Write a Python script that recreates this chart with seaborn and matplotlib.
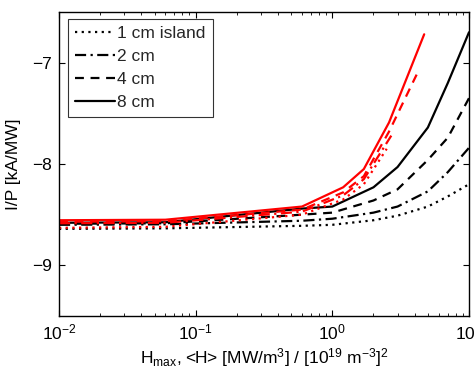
import matplotlib
matplotlib.use("Agg")
import matplotlib.pyplot as plt
import seaborn as sns
import numpy as np
import pandas as pd

sns.set_theme(style="ticks")
plt.rcParams['font.family'] = ['Liberation Sans', 'DejaVu Sans']
plt.rcParams['mathtext.fontset'] = 'custom'
plt.rcParams['mathtext.rm'] = 'Liberation Sans'
plt.rcParams['mathtext.it'] = 'Liberation Sans'

# Data (black: H_max, red: <H>)
labels = ["1 cm island", "2 cm", "4 cm", "8 cm"]
x_black = [0.01, 0.06, 0.6, 1.0, 2.0, 3.0, 5.0, 7.0, 10.0]
y_black_1cm = [-8.64, -8.635, -8.61, -8.60, -8.555, -8.51, -8.42, -8.32, -8.20]
y_black_2cm = [-8.60, -8.595, -8.56, -8.54, -8.48, -8.42, -8.27, -8.08, -7.84]
y_black_4cm = [-8.59, -8.585, -8.50, -8.48, -8.36, -8.25, -7.96, -7.74, -7.35]
y_black_8cm = [-8.58, -8.575, -8.44, -8.42, -8.23, -8.03, -7.64, -7.20, -6.70]

x_red_1cm = [0.01, 0.06, 0.6, 1.2, 1.7, 2.5]
y_red_1cm = [-8.63, -8.62, -8.50, -8.35, -8.20, -7.85]
x_red_2cm = [0.01, 0.06, 0.6, 1.2, 1.7, 2.7]
y_red_2cm = [-8.585, -8.58, -8.47, -8.31, -8.15, -7.72]
x_red_4cm = [0.01, 0.06, 0.6, 1.2, 1.7, 2.6, 4.2]
y_red_4cm = [-8.57, -8.565, -8.45, -8.28, -8.12, -7.68, -7.10]
x_red_8cm = [0.01, 0.06, 0.6, 1.2, 1.7, 2.6, 4.7]
y_red_8cm = [-8.555, -8.55, -8.42, -8.23, -8.05, -7.59, -6.72]

styles = [(0, (1, 2)), (0, (5, 2, 1, 2)), (0, (4, 3)), '-']

fs = 12.5
fig = plt.figure(figsize=(4.75, 3.74), dpi=100)
ax = fig.add_axes([59/475, 1-316/374, (469-59)/475, (316-12)/374])

black_sets = [y_black_1cm, y_black_2cm, y_black_4cm, y_black_8cm]
red_sets = [(x_red_1cm, y_red_1cm), (x_red_2cm, y_red_2cm),
            (x_red_4cm, y_red_4cm), (x_red_8cm, y_red_8cm)]

for lab, ys, ls in zip(labels, black_sets, styles):
    sns.lineplot(x=x_black, y=ys, ax=ax, color='black', lw=1.6,
                 linestyle=ls, label=lab, sort=False)
for (xs, ys), ls in zip(red_sets, styles):
    sns.lineplot(x=xs, y=ys, ax=ax, color='red', lw=1.6,
                 linestyle=ls, sort=False, legend=False)

ax.set_xscale('log')
ax.set_xlim(1e-2, 1e1)
ax.set_ylim(-9.5, -6.5)
ax.set_yticks([-9, -8, -7])
ax.set_yticklabels(['\u22129', '\u22128', '\u22127'])
ax.tick_params(which='both', direction='in', top=True, right=True,
               labelsize=fs, color='black', labelcolor='black')
ax.tick_params(which='major', length=4, width=0.8, pad=5)
ax.tick_params(which='minor', length=2, width=0.6)
for s in ax.spines.values():
    s.set_color('black')
    s.set_linewidth(1.0)

ax.set_xlabel(r'H$_{\rm max}$, <H> [MW/m$^3$] / [10$^{19}$ m$^{-3}$]$^2$',
              fontsize=fs, color='black', labelpad=2)
ax.set_ylabel('I/P [kA/MW]', fontsize=fs, color='black', labelpad=8)

leg = ax.legend(loc='upper left', bbox_to_anchor=(0.022, 0.977), fontsize=fs,
                frameon=True, fancybox=False, edgecolor='black',
                handlelength=2.3, handletextpad=0.15, labelspacing=0.45,
                borderpad=0.4, borderaxespad=0)
leg.get_frame().set_linewidth(0.8)

fig.savefig('out.png', dpi=100)
